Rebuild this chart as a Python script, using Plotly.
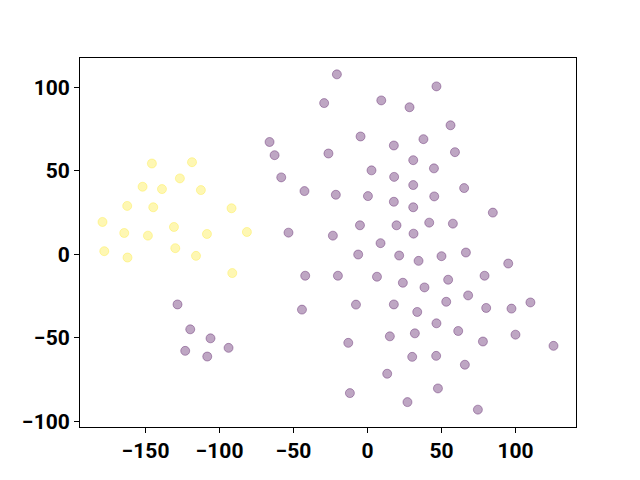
import plotly.graph_objects as go

# Cluster 0 (yellow)
yellow_x = [-145.7, -118.6, -126.8, -152.0, -138.9, -112.6, -162.4, -144.8, -91.9, -179.1,
            -164.4, -148.4, -130.8, -108.5, -81.5, -177.9, -162.2, -129.9, -115.9, -91.4]
yellow_y = [54.4, 55.2, 45.5, 40.5, 39.1, 38.5, 29.0, 28.2, 27.6, 19.4,
            12.8, 11.2, 16.4, 12.2, 13.4, 1.9, -1.9, 3.7, -0.9, -11.2]

# Cluster 1 (purple)
purple_x = [-128.4, -119.8, -106.1, -93.9, -123.2, -108.3, -20.7, -29.3, 9.3, 28.4,
            -66.2, -4.7, 17.8, -62.8, -26.4, 30.9, 2.7, -58.3, 18.0, 30.9,
            -42.6, -21.4, 0.3, 17.8, 30.9, -5.1, 19.6, -53.4, -23.4, 31.1,
            8.8, 46.6, 56.1, 37.8, 59.1, 44.9, 65.3, 45.1, 84.7, 41.7,
            57.7, -6.3, 21.4, 34.5, -42.1, -20.0, 6.4, 23.9, -44.3, -7.8,
            17.8, 33.6, 15.1, 32.0, -13.0, 30.2, 13.3, -11.9, 27.0, 50.0,
            66.5, 95.1, 38.5, 54.5, 79.1, 53.2, 68.0, 80.2, 97.3, 110.1,
            46.6, 61.3, 78.0, 100.0, 125.7, 46.4, 65.8, 47.6, 74.6]
purple_y = [-30.0, -44.9, -50.3, -56.0, -57.8, -61.2, 107.8, 90.6, 92.2, 88.1,
            67.3, 70.6, 65.2, 59.4, 60.4, 56.4, 50.3, 46.1, 46.4, 41.5,
            37.9, 35.7, 34.9, 31.5, 28.2, 17.4, 17.4, 13.0, 11.2, 12.4,
            6.7, 100.6, 77.3, 69.0, 61.2, 51.5, 39.7, 34.7, 25.0, 19.0,
            18.4, -0.1, -0.7, -3.9, -12.8, -12.8, -13.4, -17.0, -33.1, -30.1,
            -30.0, -34.5, -49.1, -47.3, -53.0, -61.4, -71.5, -83.1, -88.5, -1.1,
            1.1, -5.5, -19.8, -15.2, -12.8, -28.4, -24.6, -32.1, -32.5, -28.8,
            -41.3, -45.9, -52.2, -48.1, -54.8, -60.8, -66.1, -80.3, -93.0]

x_ticks = [-150, -100, -50, 0, 50, 100]
y_ticks = [-100, -50, 0, 50, 100]

purple_fill = "rgba(68,1,84,0.35)"
yellow_fill = "rgba(253,231,37,0.35)"

fig = go.Figure()
fig.add_trace(go.Scatter(x=purple_x, y=purple_y, mode="markers",
                         marker=dict(size=9, color=purple_fill,
                                     line=dict(width=1, color=purple_fill)),
                         showlegend=False))
fig.add_trace(go.Scatter(x=yellow_x, y=yellow_y, mode="markers",
                         marker=dict(size=9, color=yellow_fill,
                                     line=dict(width=1, color=yellow_fill)),
                         showlegend=False))

axis_common = dict(showgrid=False, zeroline=False, showline=True, mirror=True,
                   linecolor="black", linewidth=1, ticks="outside", ticklen=5,
                   tickwidth=1, tickcolor="black", automargin=False,
                   tickfont=dict(family="Roboto", size=21, color="black", weight="bold"))

fig.update_xaxes(range=[-194.3, 140.9], tickvals=x_ticks,
                 ticktext=[str(v).replace("-", "\u2212") for v in x_ticks], **axis_common)
fig.update_yaxes(range=[-103.4, 117.6], tickvals=y_ticks,
                 ticktext=[str(v).replace("-", "\u2212") for v in y_ticks], **axis_common)

fig.update_layout(width=640, height=480, plot_bgcolor="white", paper_bgcolor="white",
                  margin=dict(l=72, r=72, t=50, b=61))

fig.write_html("out.html")
